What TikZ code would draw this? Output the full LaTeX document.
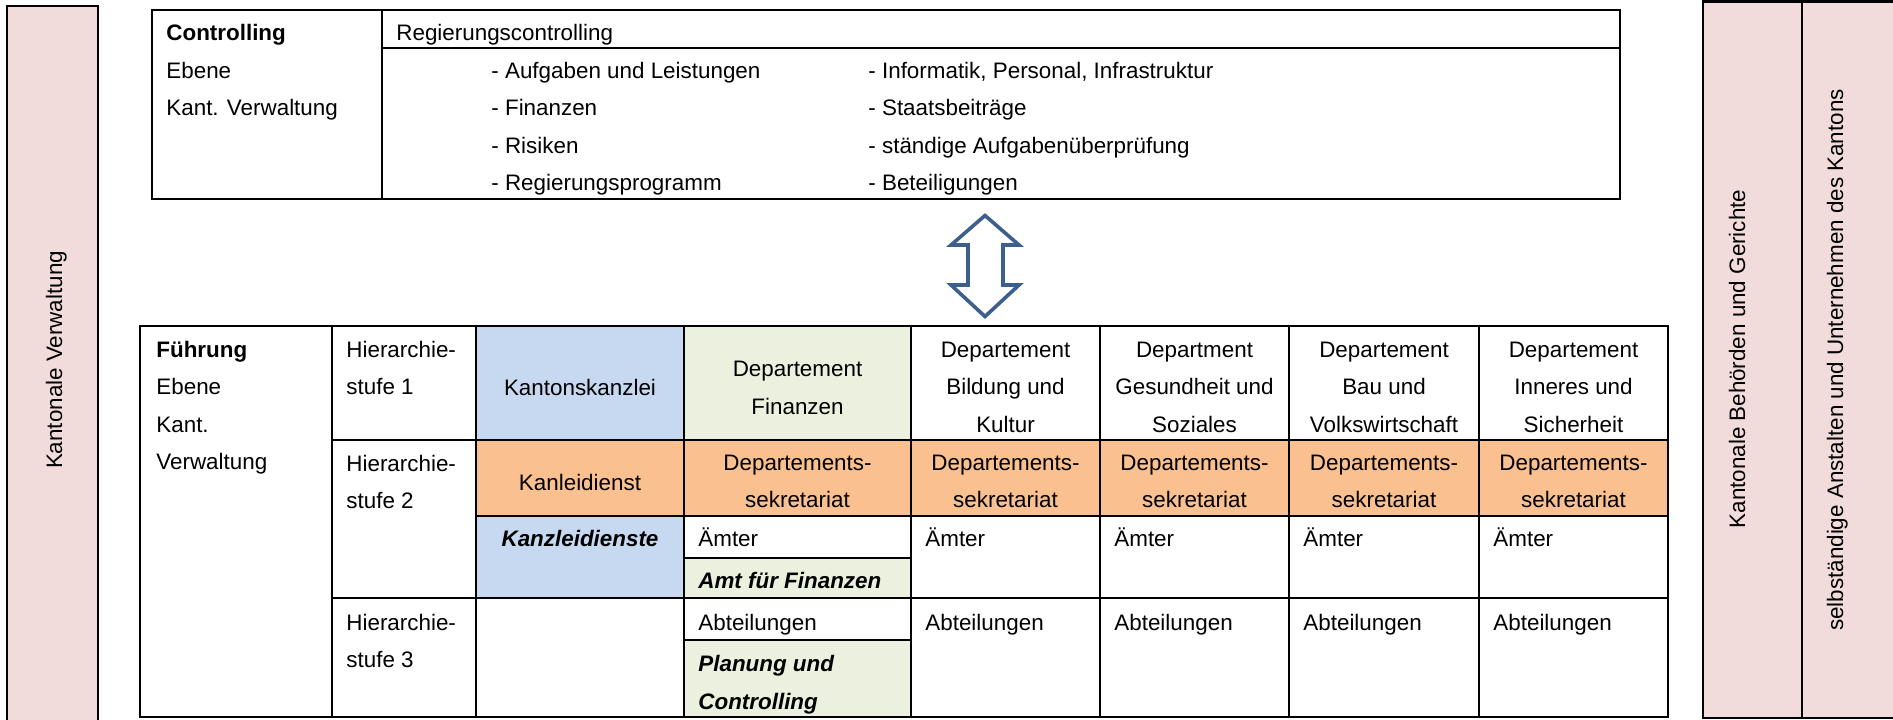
\documentclass[tikz,border=0pt]{standalone}
\usepackage{fontspec}
\setmainfont{Liberation Sans}
\definecolor{bandpink}{HTML}{F2DCDB}
\definecolor{cblue}{HTML}{C6D9F1}
\definecolor{cgreen}{HTML}{EBF1DE}
\definecolor{corange}{HTML}{FAC090}
\definecolor{arrowblue}{HTML}{3C5F8E}
\begin{document}
\begin{tikzpicture}[x=0.5pt,y=-0.5pt,
  txt/.style={inner sep=0pt, font=\fontsize{11.2}{13}\selectfont},
  lt/.style={txt, anchor=base west},
  ct/.style={txt, anchor=base},
  rt/.style={txt, anchor=base, rotate=90},
  gridline/.style={line width=1.2pt, line cap=rect},
  band/.style={fill=bandpink, draw=black, line width=1.2pt},
  blockarrow/.style={draw=arrowblue, fill=white, line width=1.8pt, line join=miter}]
\useasboundingbox (0,0) rectangle (1893,719);

% side bands
\draw[band] (7,6) rectangle (98,726);
\draw[band] (1703,1.5) rectangle (1902,718);
\draw[gridline] (1802,1.5) -- (1802,718);
\node[rt] (kv) at (62,360) {Kantonale Verwaltung};
\node[rt] (kbg) at (1745,359) {Kantonale Behörden und Gerichte};
\node[rt] (sau) at (1843,360) {selbständige Anstalten und Unternehmen des Kantons};

% top table
\draw[gridline] (152,10) rectangle (1620,199);
\draw[gridline] (382,10) -- (382,199);
\draw[gridline] (382,48) -- (1620,48);
\coordinate (toptable) at (985,199);
\node[lt,font=\fontsize{11.2}{13}\selectfont\bfseries] (ctrl) at (166,40.5) {Controlling};
\node[lt] (ctrl2) at (166,78) {Ebene};
\node[lt] (ctrl3) at (166,115.5) {Kant. Verwaltung};
\node[lt] (rc) at (396,40.5) {Regierungscontrolling};
\node[lt] (l1) at (491,78) {- Aufgaben und Leistungen};
\node[lt] (l2) at (491,115.5) {- Finanzen};
\node[lt] (l3) at (491,153) {- Risiken};
\node[lt] (l4) at (491,190.5) {- Regierungsprogramm};
\node[lt] (r1) at (868,78) {- Informatik, Personal, Infrastruktur};
\node[lt] (r2) at (868,115.5) {- Staatsbeiträge};
\node[lt] (r3) at (868,153) {- ständige Aufgabenüberprüfung};
\node[lt] (r4) at (868,190.5) {- Beteiligungen};

% double block arrow
\coordinate (bottable) at (985,326);
\draw[blockarrow] (985,215.5) -- (1019,245) -- (1003,245) -- (1003,285) -- (1019,285)
  -- (985,316.5) -- (951,285) -- (968,285) -- (968,245) -- (951,245) -- cycle;

% bottom table fills
\fill[cblue] (476,326) rectangle (684,440);
\fill[corange] (476,440) rectangle (1668,516);
\fill[cblue] (476,516) rectangle (684,598);
\fill[cgreen] (684,326) rectangle (911,440);
\fill[cgreen] (684,558) rectangle (911,598);
\fill[cgreen] (684,640) rectangle (911,717);

% bottom table grid
\draw[gridline] (140,326) rectangle (1668,717);
\foreach \x in {332,476,684,911,1100,1289,1479} \draw[gridline] (\x,326) -- (\x,717);
\draw[gridline] (332,440) -- (1668,440);
\draw[gridline] (476,516) -- (1668,516);
\draw[gridline] (332,598) -- (1668,598);
\draw[gridline] (684,558) -- (911,558);
\draw[gridline] (684,640) -- (911,640);

% column A
\node[lt,font=\fontsize{11.2}{13}\selectfont\bfseries] (fa) at (156,357) {Führung};
\node[lt] (fb) at (156,394.5) {Ebene};
\node[lt] (fc) at (156,432) {Kant.};
\node[lt] (fd) at (156,469.5) {Verwaltung};

% column B
\node[lt] (h1a) at (346,357) {Hierarchie-};
\node[lt] (h1b) at (346,394.5) {stufe 1};
\node[lt] (h2a) at (346,471) {Hierarchie-};
\node[lt] (h2b) at (346,508) {stufe 2};
\node[lt] (h3a) at (346,630) {Hierarchie-};
\node[lt] (h3b) at (346,667) {stufe 3};

% column C
\node[ct] (kk) at (580,395) {Kantonskanzlei};
\node[ct] (kl) at (580,490) {Kanleidienst};
\node[ct,font=\fontsize{11.2}{13}\selectfont\bfseries\itshape] (kd) at (580,546.5) {Kanzleidienste};

% column D (Finanzen)
\node[ct] (dfa) at (797.5,376.5) {Departement};
\node[ct] (dfb) at (797.5,414) {Finanzen};
\node[lt,font=\fontsize{11.2}{13}\selectfont\bfseries\itshape] (aff) at (698,588) {Amt für Finanzen};
\node[lt,font=\fontsize{11.2}{13}\selectfont\bfseries\itshape] (puc1) at (698,671.5) {Planung und};
\node[lt,font=\fontsize{11.2}{13}\selectfont\bfseries\itshape] (puc2) at (698,709) {Controlling};

% departments E-H
\foreach \c/\a/\b/\d [count=\i] in {1005.5/Departement/Bildung und/Kultur,
    1194.5/Department/Gesundheit und/Soziales,
    1384/Departement/Bau und/Volkswirtschaft,
    1573.5/Departement/Inneres und/Sicherheit} {
  \node[ct] (depa\i) at (\c,357) {\a};
  \node[ct] (depb\i) at (\c,394.5) {\b};
  \node[ct] (depc\i) at (\c,432) {\d};
}

% secretariats
\foreach \c [count=\i] in {797.5,1005.5,1194.5,1384,1573.5} {
  \node[ct] (seka\i) at (\c,470) {Departements-};
  \node[ct] (sekb\i) at (\c,507.5) {sekretariat};
}

% Aemter and Abteilungen
\foreach \x [count=\i] in {698,925,1114,1303,1493} {
  \node[lt] (amt\i) at (\x,546.5) {Ämter};
  \node[lt] (abt\i) at (\x,630) {Abteilungen};
}
\end{tikzpicture}
\end{document}
